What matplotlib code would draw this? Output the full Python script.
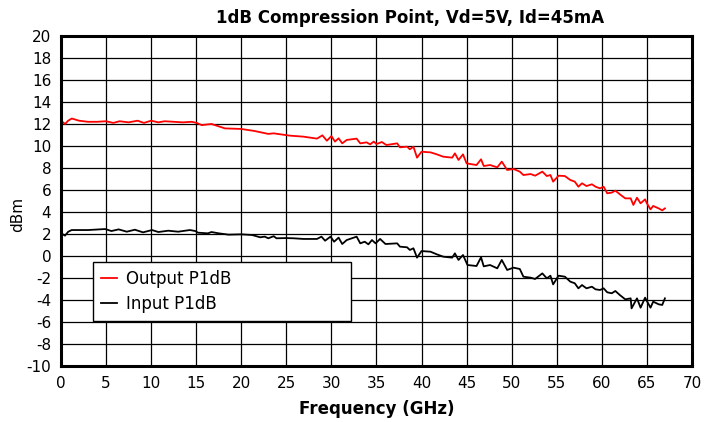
import matplotlib
matplotlib.use("Agg")
import matplotlib.pyplot as plt

plt.rcParams['axes.unicode_minus'] = False

# Output P1dB (GHz, dBm)
out_freq = [0.0, 0.15, 0.45, 0.8, 1.2, 1.6, 2.0, 3.0, 4.0, 5.0, 5.8, 6.5, 7.5, 8.5, 9.2,
            10.0, 10.8, 11.5, 12.5, 13.5, 14.5, 15.06, 15.6, 16.7, 18.2, 20.0, 21.5, 23.0,
            23.6, 25.4, 26.9, 28.4, 29.0, 29.5, 30.0, 30.4, 30.8, 31.2, 31.7, 32.8, 33.2,
            33.9, 34.3, 34.7, 35.0, 35.6, 36.1, 37.3, 37.6, 38.4, 38.7, 39.1, 39.5, 40.0,
            41.0, 41.7, 42.4, 43.4, 43.7, 44.1, 44.6, 45.0, 46.1, 46.6, 46.9, 47.6, 48.4,
            48.9, 49.5, 50.2, 50.9, 51.3, 52.1, 52.6, 53.4, 53.9, 54.3, 54.6, 55.2, 55.9,
            56.5, 57.0, 57.4, 57.8, 58.3, 58.9, 59.3, 59.8, 60.2, 60.6, 61.1, 61.5, 62.0,
            62.6, 63.2, 63.5, 63.9, 64.3, 64.8, 65.0, 65.4, 65.7, 66.3, 66.7, 67.0]
out_dbm = [12.25, 12.2, 12.0, 12.3, 12.5, 12.4, 12.3, 12.2, 12.2, 12.25, 12.1, 12.25, 12.15,
           12.3, 12.1, 12.3, 12.15, 12.25, 12.2, 12.15, 12.2, 12.1, 11.9, 12.0, 11.6, 11.55,
           11.36, 11.1, 11.15, 10.94, 10.85, 10.67, 10.97, 10.48, 10.9, 10.4, 10.7, 10.24,
           10.55, 10.67, 10.24, 10.33, 10.15, 10.4, 10.18, 10.36, 10.09, 10.24, 9.88, 9.94,
           9.7, 9.94, 8.94, 9.48, 9.42, 9.24, 9.03, 8.94, 9.33, 8.73, 9.24, 8.42, 8.27, 8.79,
           8.18, 8.27, 8.06, 8.58, 7.82, 7.91, 7.67, 7.36, 7.45, 7.3, 7.67, 7.27, 7.36, 6.76,
           7.3, 7.27, 6.91, 6.76, 6.3, 6.61, 6.36, 6.52, 6.3, 6.15, 6.3, 5.7, 5.76, 5.94,
           5.61, 5.24, 5.24, 4.64, 5.3, 4.79, 5.15, 4.79, 4.24, 4.55, 4.33, 4.15, 4.33]

# Input P1dB (GHz, dBm)
in_freq = [0.0, 0.15, 0.44, 0.81, 1.19, 3.0, 4.9, 5.6, 6.4, 7.3, 8.2, 9.1, 10.1, 10.8, 11.9,
           13.0, 14.3, 14.9, 15.2, 16.3, 16.7, 17.5, 18.6, 20.0, 21.2, 22.1, 22.6, 23.0,
           23.6, 23.9, 25.0, 25.8, 26.9, 28.4, 28.9, 29.3, 29.9, 30.3, 30.8, 31.2, 31.7,
           32.8, 33.2, 33.7, 34.1, 34.5, 34.9, 35.4, 36.0, 37.3, 37.6, 38.4, 38.7, 39.1,
           39.5, 40.0, 41.0, 41.7, 42.4, 43.4, 43.7, 44.1, 44.6, 45.1, 46.1, 46.6, 46.9,
           47.6, 48.4, 48.9, 49.5, 50.2, 50.9, 51.3, 52.1, 52.6, 53.4, 53.9, 54.3, 54.6,
           55.2, 55.9, 56.5, 57.0, 57.4, 57.8, 58.3, 58.9, 59.3, 59.8, 60.2, 60.6, 61.1,
           61.5, 62.0, 62.6, 63.2, 63.3, 63.9, 64.3, 64.8, 65.4, 65.7, 66.3, 66.7, 67.0]
in_dbm = [2.05, 2.0, 1.85, 2.21, 2.36, 2.36, 2.45, 2.27, 2.42, 2.21, 2.39, 2.15, 2.36, 2.18,
          2.3, 2.21, 2.36, 2.27, 2.12, 2.06, 2.18, 2.06, 1.94, 1.97, 1.91, 1.7, 1.76, 1.61,
          1.8, 1.61, 1.63, 1.61, 1.55, 1.55, 1.76, 1.39, 1.76, 1.3, 1.67, 1.09, 1.45, 1.76,
          1.15, 1.3, 1.06, 1.45, 1.15, 1.55, 1.09, 1.15, 0.85, 0.79, 0.55, 0.7, -0.15, 0.45,
          0.39, 0.15, -0.06, -0.15, 0.24, -0.36, 0.09, -0.82, -0.91, -0.12, -0.94, -0.82,
          -1.12, -0.36, -1.27, -1.06, -1.18, -1.88, -1.97, -2.09, -1.58, -2.03, -1.79, -2.58,
          -1.79, -1.88, -2.33, -2.48, -2.94, -2.64, -2.94, -2.79, -3.03, -3.09, -2.94, -3.3,
          -3.39, -3.18, -3.55, -3.94, -3.85, -4.76, -3.85, -4.7, -3.79, -4.7, -4.15, -4.39,
          -4.45, -3.85]

fig = plt.figure(figsize=(7.19, 4.22), dpi=100)
ax = fig.add_axes([0.0848, 0.1327, 0.8776, 0.782])

ax.plot(out_freq, out_dbm, color="red", lw=1.3, label="Output P1dB")
ax.plot(in_freq, in_dbm, color="black", lw=1.3, label="Input P1dB")

ax.set_xlim(0, 70)
ax.set_ylim(-10, 20)
ax.set_xticks(range(0, 71, 5))
ax.set_yticks(range(-10, 21, 2))
ax.grid(True, color="black", lw=0.9)
ax.tick_params(length=0, labelsize=11, pad=7)
for s in ax.spines.values():
    s.set_linewidth(2.2)

ax.set_xlabel("Frequency (GHz)", fontsize=12, fontweight="bold", labelpad=7)
ax.set_ylabel("dBm", fontsize=11, va="center")
# ylabel sits close to the axis, overlapping the width of the "-10" label column
ax.yaxis.set_label_coords(-0.068, 0.46)
fig.text(0.570, 0.958, "1dB Compression Point, Vd=5V, Id=45mA",
         ha="center", va="center", fontsize=12, fontweight="bold")

leg = ax.legend(loc="upper left", bbox_to_anchor=(0.051, 0.145, 0.409, 0.17),
                mode="expand", fontsize=12, fancybox=False, framealpha=1,
                edgecolor="black", handlelength=1.0, handletextpad=0.5,
                borderpad=0.45, labelspacing=0.45, borderaxespad=0)
leg.get_frame().set_linewidth(1.0)

fig.savefig("out.png", dpi=100)
